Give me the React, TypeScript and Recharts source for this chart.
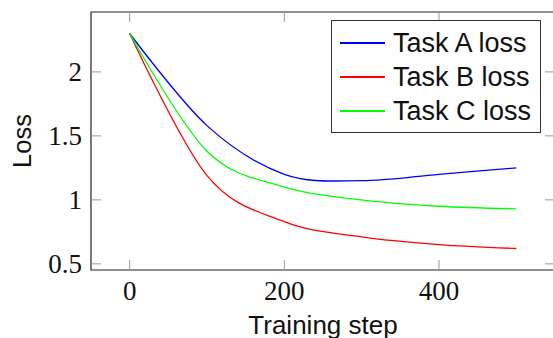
import React from "react"
import { Legend, Line, LineChart, ReferenceArea, XAxis, YAxis } from "recharts"

// values
const steps = [0, 100, 200, 300, 400, 500]
const taskA = [2.3, 1.58, 1.2, 1.15, 1.2, 1.25]
const taskB = [2.3, 1.19, 0.83, 0.71, 0.65, 0.62]
const taskC = [2.3, 1.38, 1.1, 1.0, 0.95, 0.93]

const series = [
    { key: "a", name: "Task A loss", cor: "#0000ff" },
    { key: "b", name: "Task B loss", cor: "#ff0000" },
    { key: "c", name: "Task C loss", cor: "#00ff00" },
]

const xTicks = [0, 200, 400]
const yTicks = [0.5, 1, 1.5, 2]
const xDomain = [-50, 550]
const yDomain = [0.452, 2.468]

const dados = steps.map((s, i) => ({
    step: s,
    a: taskA[i],
    b: taskB[i],
    c: taskC[i],
}))

const W = 565
const H = 338
const margem = { top: 12, right: 10, left: 31, bottom: 28 }
const Y_W = 60
const X_H = 40
const plotTop = margem.top
const plotBottom = H - margem.bottom - X_H
const plotRight = W - margem.right
const TICK = 10
const tickCor = "#9a9a9a"
const serif = "'Liberation Serif', 'Times New Roman', serif"
const sans = "'Liberation Sans', Arial, sans-serif"

// curva "smooth" parecida com a do tikz
const TENSAO = 1 / 6
const suave = (ctx: any) => {
    let pts: number[][] = []
    return {
        areaStart() {},
        areaEnd() {},
        lineStart() { pts = [] },
        point(x: number, y: number) { pts.push([+x, +y]) },
        lineEnd() {
            const n = pts.length
            if (!n) return
            ctx.moveTo(pts[0][0], pts[0][1])
            if (n === 2) { ctx.lineTo(pts[1][0], pts[1][1]); return }
            let sup = pts[0]
            for (let i = 1; i < n - 1; i++) {
                const dx = (pts[i + 1][0] - pts[i - 1][0]) * TENSAO
                const dy = (pts[i + 1][1] - pts[i - 1][1]) * TENSAO
                ctx.bezierCurveTo(sup[0], sup[1], pts[i][0] - dx, pts[i][1] - dy, pts[i][0], pts[i][1])
                sup = [pts[i][0] + dx, pts[i][1] + dy]
            }
            const last = pts[n - 1]
            if (n > 2) ctx.bezierCurveTo(sup[0], sup[1], last[0], last[1], last[0], last[1])
        },
    }
}

const TickX = (props: any) => {
    const { x, payload } = props
    return (
        <g>
            <line x1={x} x2={x} y1={plotBottom} y2={plotBottom - TICK} stroke={tickCor} />
            <line x1={x} x2={x} y1={plotTop} y2={plotTop + TICK} stroke={tickCor} />
            <text x={x} y={plotBottom + 21} textAnchor="middle" dominantBaseline="central"
                fontFamily={serif} fontSize={27} fill="#111">{payload.value}</text>
        </g>
    )
}

const TickY = (props: any) => {
    const { x, y, payload } = props
    const left = x + 9
    return (
        <g>
            <line x1={left} x2={left + TICK} y1={y} y2={y} stroke={tickCor} />
            <line x1={plotRight} x2={plotRight - TICK} y1={y} y2={y} stroke={tickCor} />
            <text x={x} y={y} textAnchor="end" dominantBaseline="central"
                fontFamily={serif} fontSize={27} fill="#111">{payload.value}</text>
        </g>
    )
}

const LabelY = (props: any) => {
    const vb = props.viewBox
    const cx = vb.x - 9
    const cy = vb.y + vb.height / 2
    return (
        <text x={cx} y={cy} transform={`rotate(-90, ${cx}, ${cy})`} textAnchor="middle"
            dominantBaseline="central" fontFamily={sans} fontSize={25.5} fill="#111">Loss</text>
    )
}

const Legenda = () => {
    return (
        <div style={{ border: "1px solid #333", background: "#fff", padding: "5px 0 4px 8px", boxSizing: "border-box", width: 210, height: 113 }}>
            {series.map((s) => (
                <div key={s.key} style={{ position: "relative", height: 34 }}>
                    <div style={{ position: "absolute", left: 0, top: 16, width: 45, height: 2, background: s.cor }} />
                    <span style={{ position: "absolute", left: 53, top: 17, transform: "translateY(-50%)", fontFamily: sans, fontSize: 27, color: "#111", lineHeight: 1, whiteSpace: "nowrap" }}>{s.name}</span>
                </div>
            ))}
        </div>
    )
}

const App = () => {
    return (
        <div style={{ position: "absolute", left: 0, top: 0, width: 553, height: 338, overflow: "hidden", background: "#fff" }}>
            <LineChart width={W} height={H} data={dados} margin={margem}>
                <ReferenceArea x1={xDomain[0]} x2={xDomain[1]} y1={yDomain[0]} y2={yDomain[1]}
                    fill="none" stroke="#222" strokeWidth={1.2} ifOverflow="visible" />
                <XAxis dataKey="step" type="number" domain={xDomain} ticks={xTicks} allowDataOverflow
                    height={X_H} tickSize={0} tickMargin={0} axisLine={false} tickLine={false}
                    tick={<TickX />} interval={0}
                    label={{ value: "Training step", position: "bottom", offset: 6, fontFamily: sans, fontSize: 26, fill: "#111" }} />
                <YAxis type="number" domain={yDomain} ticks={yTicks} allowDataOverflow width={Y_W}
                    tickSize={0} tickMargin={9} axisLine={false} tickLine={false} tick={<TickY />} interval={0}
                    label={<LabelY />} />
                <Legend layout="horizontal" verticalAlign="middle" align="center" content={<Legenda />}
                    wrapperStyle={{ left: 331, top: 20, width: "auto" }} />
                {series.map((s) => (
                    <Line key={s.key} type={suave as any} dataKey={s.key} name={s.name} stroke={s.cor}
                        strokeWidth={1.3} dot={false} isAnimationActive={false} />
                ))}
            </LineChart>
        </div>
    )
}

export default App
